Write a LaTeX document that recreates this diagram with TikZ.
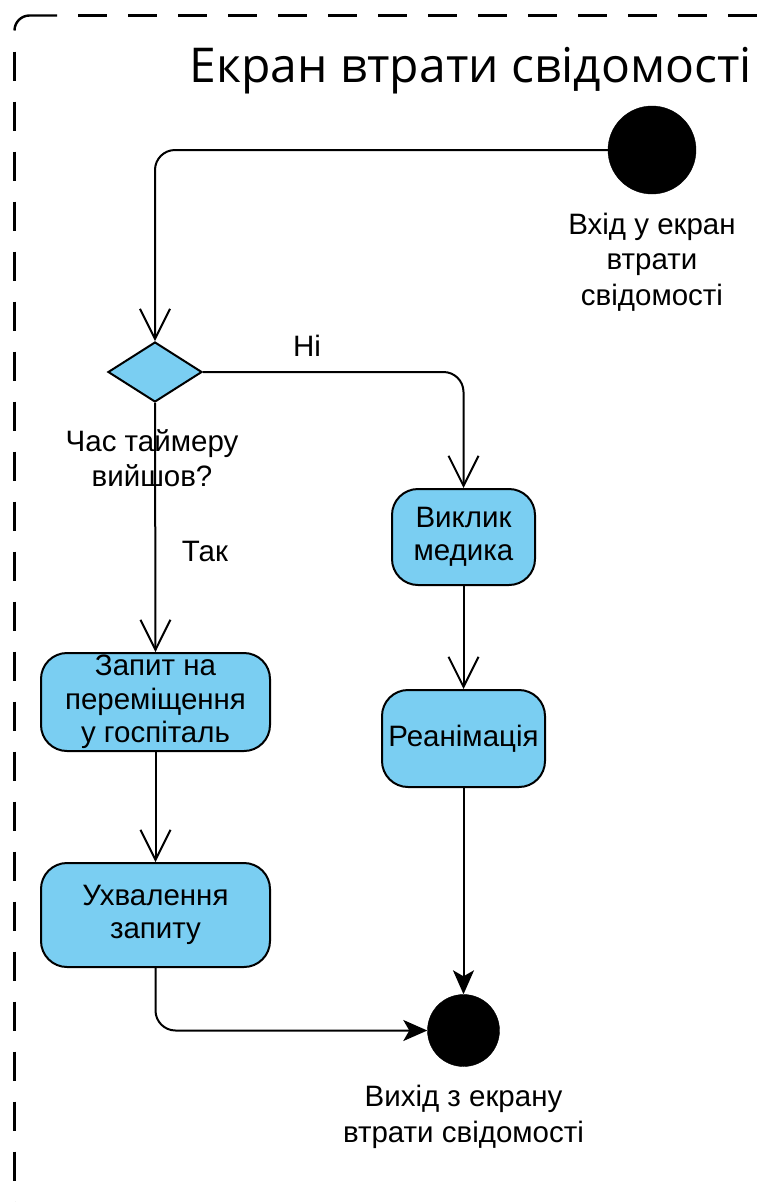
\documentclass[tikz,border=0pt]{standalone}
\usepackage{fontspec}
\setmainfont{Liberation Sans}
\newfontfamily\titlefont{Open Sans}
\usetikzlibrary{arrows.meta,shapes.geometric,positioning}
\definecolor{actblue}{HTML}{7ACEF2}
\tikzset{
  actbox/.style={draw=black, line width=2pt, fill=actblue, rounded corners=26pt,
    align=center, inner sep=0pt, font=\fontsize{29.5}{33.5}\selectfont},
  lbl/.style={align=center, inner sep=0pt, font=\fontsize{29.5}{35.5}\selectfont},
  openflow/.style={draw=black, line width=2pt, rounded corners=20pt,
    -{Straight Barb[length=30pt,width=30pt,line width=2pt]}},
  fillflow/.style={draw=black, line width=2pt, rounded corners=20pt,
    -{Stealth[length=24pt,width=21pt,inset=6pt]}},
  frame/.style={line width=2.4pt, line cap=butt}
}
\begin{document}
\begin{tikzpicture}[x=1pt,y=-1pt]
\useasboundingbox (0,0) rectangle (778,1202);
% dashed frame
\draw[frame] (14.5,30.5) arc[start angle=180,end angle=270,radius=15] -- (57,15.5);
\draw[frame, dash pattern=on 29pt off 21pt, dash phase=29pt] (57,15.5) -- (778,15.5);
\draw[frame, dash pattern=on 29pt off 21pt, dash phase=29pt] (14.5,30.5) -- (14.5,1202);
% title
\node[anchor=base east, inner sep=0pt, font=\titlefont\fontsize{48}{56}\selectfont] (title) at (752,82) {Екран втрати свідомості};
% nodes
\node[circle, fill=black, draw=black, minimum size=88pt, inner sep=0pt] (start) at (652,150) {};
\node[lbl] (startlbl) at (652,262) {Вхід у екран\\втрати\\свідомості};
\node[diamond, draw=black, line width=2pt, fill=actblue, minimum width=94pt, minimum height=60pt, inner sep=0pt] (dec) at (155,372) {};
\node[lbl] (declbl) at (152,458) {Час таймеру\\вийшов?};
\node[lbl] (ni) at (307,346) {Ні};
\node[lbl] (tak) at (205,551) {Так};
\node[actbox, minimum width=143pt, minimum height=96pt] (call) at (463.5,537) {Виклик\\медика};
\node[actbox, minimum width=163pt, minimum height=97pt] (rean) at (463.5,738.5) {Реанімація};
\node[actbox, minimum width=229pt, minimum height=98pt] (req) at (155.5,702) {Запит на\\переміщення\\у госпіталь};
\node[actbox, minimum width=229pt, minimum height=104pt] (appr) at (155.5,915) {Ухвалення\\запиту};
\node[circle, fill=black, draw=black, minimum size=72pt, inner sep=0pt] (end) at (463.5,1030.5) {};
\node[lbl] (endlbl) at (463.5,1117) {Вихід з екрану\\втрати свідомості};
% connectors
\draw[openflow] (start.west) -| (dec.north);
\draw[openflow] (dec.east) -| (call.north);
\draw[openflow] (dec.south) -- (req.north);
\draw[openflow] (req.south) -- (appr.north);
\draw[openflow] (call.south) -- (rean.north);
\draw[fillflow] (rean.south) -- (end.north);
\draw[fillflow] (appr.south) |- (end.west);
\end{tikzpicture}
\end{document}
